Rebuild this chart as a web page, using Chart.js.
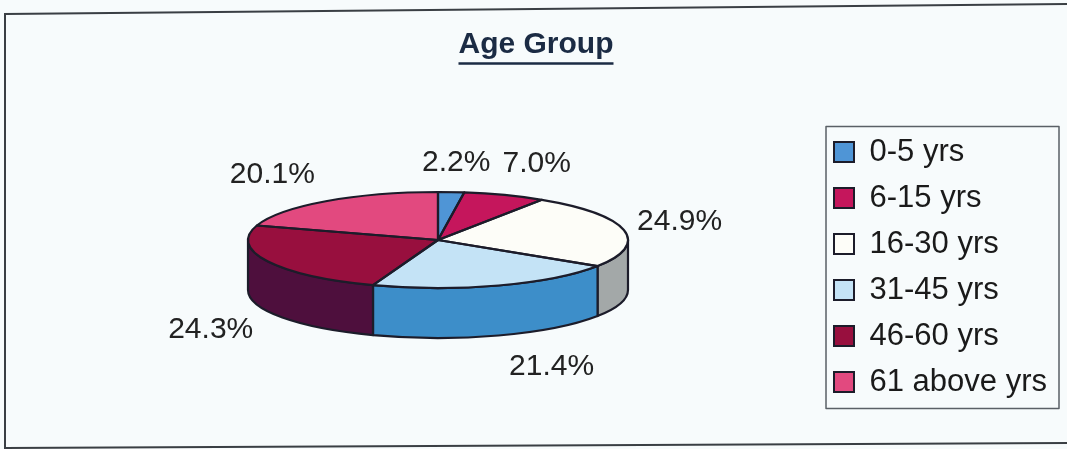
<!DOCTYPE html>
<html>
<head>
<meta charset="utf-8">
<script src="https://cdn.jsdelivr.net/npm/chart.js@4.4.1/dist/chart.umd.min.js"></script>
<style>
  html, body { margin: 0; padding: 0; background: #f7fbfc; }
</style>
</head>
<body>
<canvas id="ageChart" width="1067" height="449"></canvas>
<script>
// data
const ageGroups = ["0-5 yrs", "6-15 yrs", "16-30 yrs", "31-45 yrs", "46-60 yrs", "61 above yrs"];
const sharePct = [2.2, 7.0, 24.9, 21.4, 24.3, 20.1];

// colours: top face and the darker side wall
const topColors = ["#4f95d6", "#c5165c", "#fdfdf8", "#c4e3f6", "#980f3e", "#e2497f"];
const sideColors = ["#2f6fae", "#8a0f3e", "#a3a8a8", "#3d8ec9", "#4e0f3d", "#a02a58"];

const FONT = '"Liberation Sans", Arial, sans-serif';
const INK = "#1c1c2a";

// tilts the library's pie into an ellipse and adds the wall underneath
const pie3d = {
  id: "pie3d",
  beforeDraw(chart) {
    const ctx = chart.ctx;
    ctx.save();
    ctx.fillStyle = "#f7fbfc";
    ctx.fillRect(0, 0, chart.width, chart.height);
    // scanned frame (slightly skewed)
    ctx.strokeStyle = "#3a3f44";
    ctx.lineWidth = 2;
    ctx.beginPath();
    ctx.moveTo(chart.width, 4);
    ctx.lineTo(5, 14);
    ctx.lineTo(5, chart.height);
    ctx.moveTo(5, 448);
    ctx.lineTo(chart.width, 443);
    ctx.stroke();
    ctx.restore();
  },
  beforeDatasetsDraw(chart, args, opts) {
    const ctx = chart.ctx;
    const arcs = chart.getDatasetMeta(0).data;
    const c = arcs[0];
    const cx = opts.cx, cy = opts.cy;

    arcs.forEach((arc, i) => {
      const a = Math.max(arc.startAngle, 0);
      const b = Math.min(arc.endAngle, Math.PI);
      if (b <= a) return;
      ctx.beginPath();
      ctx.ellipse(cx, cy, opts.rx, opts.ry, 0, a, b);
      ctx.ellipse(cx, cy + opts.depth, opts.rx, opts.ry, 0, b, a, true);
      ctx.closePath();
      ctx.fillStyle = sideColors[i];
      ctx.fill();
      ctx.lineWidth = 2.2;
      ctx.lineJoin = "round";
      ctx.strokeStyle = INK;
      ctx.stroke();
    });

    ctx.save();
    ctx.translate(cx, cy);
    ctx.scale(opts.rx / c.outerRadius, opts.ry / c.outerRadius);
    ctx.translate(-c.x, -c.y);
  },
  afterDatasetsDraw(chart, args, opts) {
    const ctx = chart.ctx;
    ctx.restore();
    const arcs = chart.getDatasetMeta(0).data;
    const c = arcs[0];
    const cx = opts.cx, cy = opts.cy;

    arcs.forEach(arc => {
      ctx.save();
      ctx.translate(cx, cy);
      ctx.scale(opts.rx / c.outerRadius, opts.ry / c.outerRadius);
      ctx.translate(-c.x, -c.y);
      ctx.beginPath();
      ctx.moveTo(c.x, c.y);
      ctx.arc(c.x, c.y, c.outerRadius, arc.startAngle, arc.endAngle);
      ctx.closePath();
      ctx.restore();
      ctx.lineWidth = 2.2;
      ctx.lineJoin = "round";
      ctx.strokeStyle = INK;
      ctx.stroke();
    });

    // percentage labels
    ctx.save();
    ctx.font = "30px " + FONT;
    ctx.fillStyle = "#222";
    ctx.textAlign = "center";
    ctx.textBaseline = "middle";
    arcs.forEach((arc, i) => {
      const m = (arc.startAngle + arc.endAngle) / 2;
      const s = Math.sin(m);
      const x = cx + (opts.rx + 60) * Math.cos(m);
      const y = cy + (opts.ry + 35) * s + (s > 0 ? opts.depth : 0);
      const n = opts.labelNudge[i];
      ctx.fillText(sharePct[i].toFixed(1) + "%", x + n[0], y + n[1]);
    });
    ctx.restore();
  },
  afterDraw(chart) {
    const ctx = chart.ctx;
    // underline under the title
    const t = chart.titleBlock;
    const tf = t.options.font;
    ctx.save();
    ctx.font = "bold " + tf.size + "px " + FONT;
    const w = ctx.measureText(t.options.text).width;
    const mid = (t.left + t.right) / 2;
    const uy = t.top + t.options.padding.top + tf.size * 0.6 + tf.size * 0.62;
    ctx.strokeStyle = t.options.color;
    ctx.lineWidth = 2.5;
    ctx.beginPath();
    ctx.moveTo(mid - w / 2, uy);
    ctx.lineTo(mid + w / 2, uy);
    ctx.stroke();

    // frame around the legend
    const hb = chart.legend.legendHitBoxes;
    if (hb && hb.length) {
      const left = hb[0].left - 8;
      const top = hb[0].top - 10;
      const right = Math.max(...hb.map(h => h.left + h.width)) + 12;
      const last = hb[hb.length - 1];
      const bottom = last.top + last.height + 11;
      ctx.strokeStyle = "#5a6066";
      ctx.lineWidth = 1.5;
      ctx.strokeRect(left, top, right - left, bottom - top);
    }
    ctx.restore();
  }
};

new Chart("ageChart", {
  type: "pie",
  data: {
    labels: ageGroups,
    datasets: [{
      data: sharePct,
      backgroundColor: topColors,
      borderWidth: 0,
      hoverOffset: 0,
      clip: false
    }]
  },
  options: {
    responsive: false,
    animation: false,
    devicePixelRatio: 1,
    layout: { padding: { left: 15, right: 10, top: 0, bottom: 20 } },
    plugins: {
      title: {
        display: true,
        text: "Age Group",
        color: "#1b2b44",
        font: { family: FONT, size: 30, weight: "bold" },
        padding: { top: 27, bottom: 58.5 }
      },
      legend: {
        position: "right",
        align: "start",
        fullSize: false,
        labels: {
          boxWidth: 20,
          boxHeight: 20,
          padding: 15,
          color: "#1a1a1a",
          font: { family: FONT, size: 31 },
          generateLabels(chart) {
            const items = Chart.overrides.doughnut.plugins.legend.labels.generateLabels(chart);
            items.forEach(it => { it.lineWidth = 2; it.strokeStyle = INK; });
            return items;
          }
        }
      },
      tooltip: { enabled: false },
      pie3d: {
        cx: 438,
        cy: 240,
        rx: 190,
        ry: 48,
        depth: 50,
        labelNudge: [[1, 6], [11, 1], [-3, -1], [34, -2], [-3, 3], [-18, 2]]
      }
    }
  },
  plugins: [pie3d]
});
</script>
</body>
</html>
